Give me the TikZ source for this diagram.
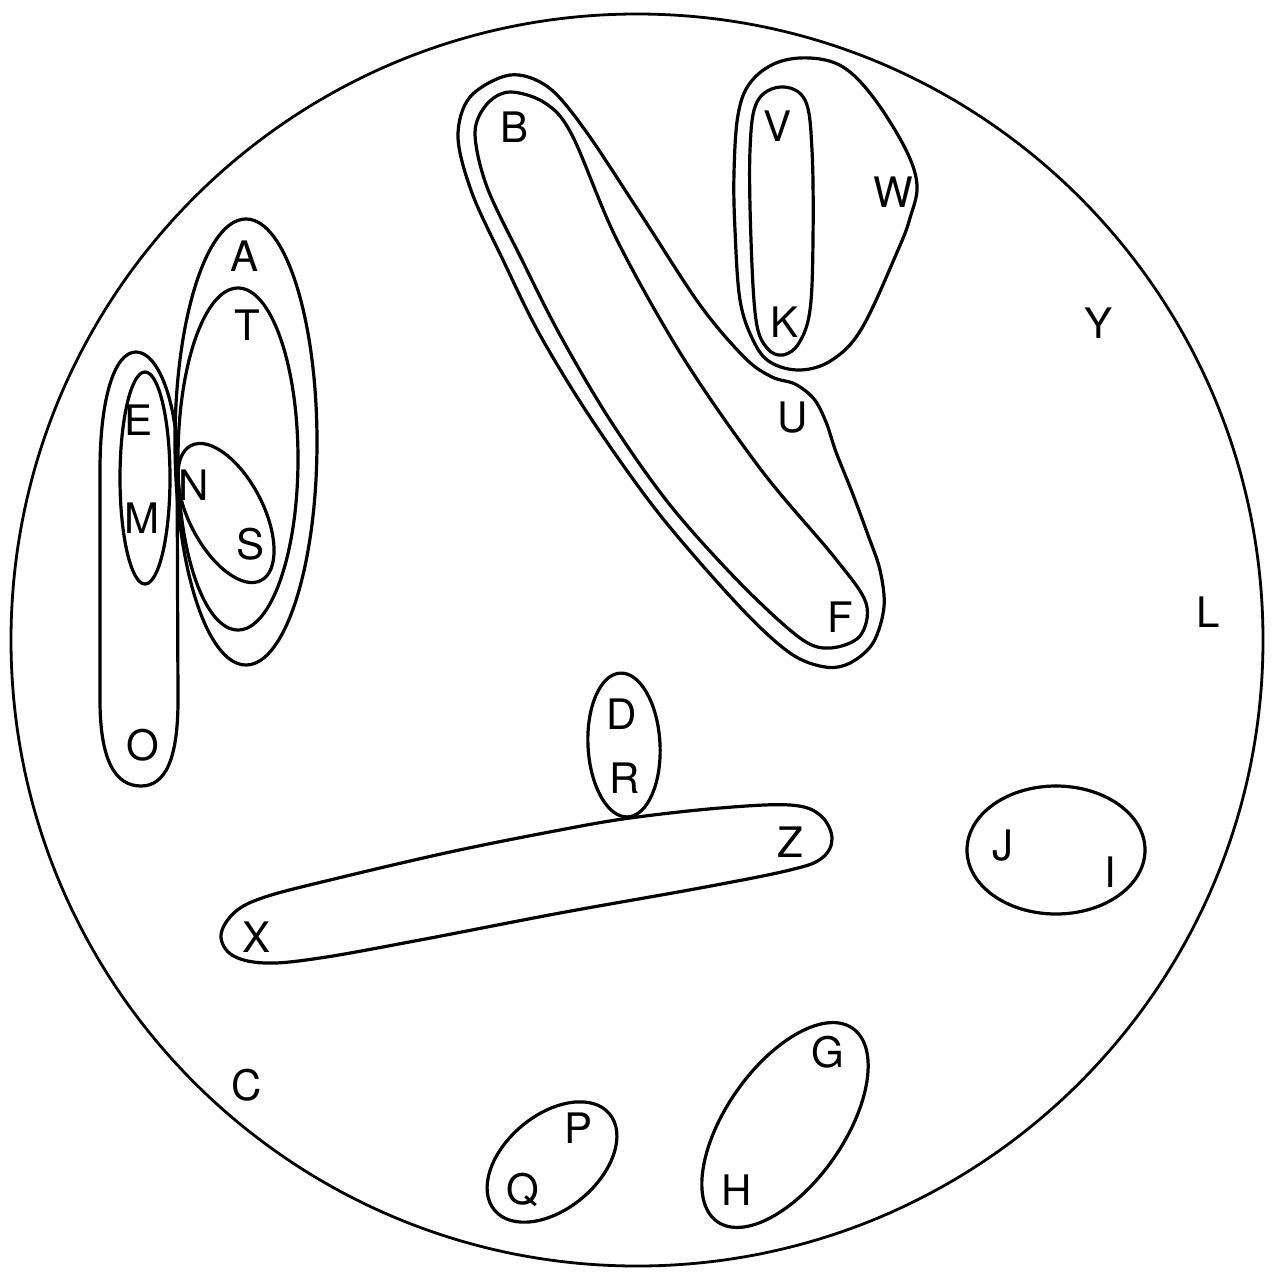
\documentclass[tikz,border=0pt]{standalone}
\usepackage{fontspec}
\setmainfont{TeX Gyre Heros}
\begin{document}
\begin{tikzpicture}[x=0.5pt,y=-0.5pt,
  setline/.style={line width=1.6pt, line join=round},
  lab/.style={font=\fontsize{21}{24}\selectfont, inner sep=0pt}]
\useasboundingbox (0,0) rectangle (1274,1280);
% universe
\draw[line width=1.4pt] (637,640) circle [radius=626];
% left cluster
\draw[setline] (246,442) ellipse [x radius=71, y radius=223];
\draw[setline] (238,459) ellipse [x radius=60, y radius=171];
\draw[setline, rotate around={-62.5:(226,513)}] (226,513) ellipse [x radius=76, y radius=37];
\draw[setline] (145,478) ellipse [x radius=25, y radius=106];
\draw[setline] (136,352) .. controls (158,352) and (175,400) .. (177,450)
  -- (178,700) .. controls (178,760) and (165,786) .. (141,786)
  .. controls (115,786) and (100,760) .. (100,700)
  -- (100,470) .. controls (100,400) and (114,352) .. (136,352) -- cycle;
% B-F inner
\draw[setline] plot[smooth cycle, tension=0.55] coordinates {
 (510,92) (545,103) (572,135) (617,240) (684,359) (762,471) (835,558)
 (866,603) (860,636) (830,648) (800,638) (740,583) (670,505) (610,420)
 (560,335) (522,260) (487,187) (475,133) (487,104)};
% B-F-U outer
\draw[setline] plot[smooth cycle, tension=0.55] coordinates {
 (510,75) (548,87) (585,130) (640,213) (700,305) (745,358) (772,377)
 (795,384) (814,399) (826,422) (836,452) (852,492) (868,535) (880,570) (884,607)
 (873,643) (850,663) (825,667) (790,653) (740,607) (660,515) (592,420) (540,335)
 (503,260) (472,193) (458,137) (470,97)};
% V-K inner
\draw[setline] plot[smooth cycle, tension=0.6] coordinates {
 (781,87) (805,100) (812,150) (813,240) (810,310) (799,343) (783,355) (767,348)
 (756,320) (751,240) (750,150) (757,102)};
% V-K-W outer
\draw[setline] plot[smooth cycle, tension=0.6] coordinates {
 (810,58) (843,67) (873,97) (905,148) (917,185) (910,218) (898,250) (862,328)
 (832,360) (800,370) (770,362) (753,340) (740,300) (735,230) (734,173) (738,115)
 (750,83) (776,63)};
% D-R
\draw[setline, rotate around={3:(624,745)}] (624,745) ellipse [x radius=36, y radius=72];
% X-Z
\draw[setline] plot[smooth cycle, tension=0.6] coordinates {
 (221,935) (235,912) (265,897) (330,880) (450,852) (560,830) (630,818) (720,808)
 (790,805) (820,815) (832,838) (822,858) (790,870) (700,888) (560,913) (420,940)
 (320,958) (265,963) (232,955)};
% J-I
\draw[setline] (1056,850) ellipse [x radius=89, y radius=64];
% P-Q
\draw[setline, rotate around={40:(552,1162)}] (552,1162) ellipse [x radius=75, y radius=47];
% G-H
\draw[setline, rotate around={55:(785,1125)}] (785,1125) ellipse [x radius=118, y radius=59];
% labels
\node[lab] (A) at (245,256) {A};
\node[lab] (T) at (247,325) {T};
\node[lab] (E) at (139,420) {E};
\node[lab] (N) at (194,485) {N};
\node[lab] (M) at (142,518) {M};
\node[lab] (S) at (251,544) {S};
\node[lab] (O) at (143,745) {O};
\node[lab] (B) at (515,127) {B};
\node[lab] (V) at (777,126) {V};
\node[lab] (W) at (893,192) {W};
\node[lab] (K) at (784,322) {K};
\node[lab] (Y) at (1098,323) {Y};
\node[lab] (U) at (793,418) {U};
\node[lab] (F) at (840,617) {F};
\node[lab] (L) at (1208,612) {L};
\node[lab] (D) at (622,714) {D};
\node[lab] (R) at (625,778) {R};
\node[lab] (Z) at (790,842) {Z};
\node[lab] (J) at (1003,846) {J};
\node[lab] (I) at (1110,872) {I};
\node[lab] (X) at (257,937) {X};
\node[lab] (C) at (247,1085) {C};
\node[lab] (G) at (828,1052) {G};
\node[lab] (P) at (579,1128) {P};
\node[lab] (Q) at (523,1190) {Q};
\node[lab] (H) at (737,1190) {H};
\end{tikzpicture}
\end{document}
